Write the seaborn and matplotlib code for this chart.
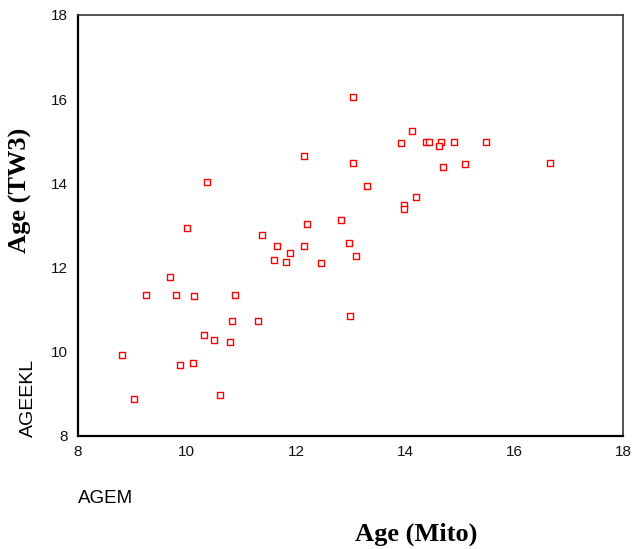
import numpy as np
import pandas as pd
import matplotlib
matplotlib.use('Agg')
import matplotlib.pyplot as plt
import seaborn as sns

# values
agem = [8.81, 9.04, 9.25, 9.70, 9.81, 9.88, 10.11, 10.14, 10.88, 10.83, 11.31,
        10.32, 10.50, 10.80, 10.60, 10.37, 12.14, 10.01, 11.37, 11.65, 12.15,
        12.21, 11.59, 11.90, 11.82, 12.46, 13.05, 14.13, 13.92, 14.38, 14.44,
        14.66, 14.63, 14.90, 15.48, 13.05, 14.69, 15.10, 16.66, 13.31, 14.20,
        13.98, 13.98, 12.82, 12.98, 13.11, 13.00]
ageekl = [9.92, 8.87, 11.34, 11.77, 11.34, 9.69, 9.72, 11.31, 11.34, 10.72, 10.72,
          10.39, 10.28, 10.22, 8.96, 14.02, 14.66, 12.93, 12.76, 12.50, 12.50,
          13.03, 12.18, 12.34, 12.14, 12.11, 16.04, 15.25, 14.95, 14.99, 14.99,
          14.99, 14.88, 14.99, 14.99, 14.49, 14.39, 14.46, 14.49, 13.93, 13.67,
          13.48, 13.39, 13.13, 12.57, 12.27, 10.85]

df = pd.DataFrame({'AGEM': agem, 'AGEEKL': ageekl})

sns.set_style('white')
plt.rcParams['font.family'] = ['Liberation Sans', 'DejaVu Sans']
plt.rcParams['text.color'] = 'black'

fig = plt.figure(figsize=(6.32, 5.49), dpi=100)
ax = fig.add_axes([0.123, 0.2064, 0.863, 0.7663])

sns.scatterplot(data=df, x='AGEM', y='AGEEKL', ax=ax, marker='s', s=22,
                facecolor='white', edgecolor='#ff0000', linewidth=1.0)

ax.set_xlim(8, 18)
ax.set_ylim(8, 18)
ax.set_xticks([8, 10, 12, 14, 16, 18])
ax.set_yticks([8, 10, 12, 14, 16, 18])
ax.set_xlabel('')
ax.set_ylabel('')
ax.tick_params(axis='both', direction='out', length=3, width=3, color='black',
               labelsize=11, pad=4, labelcolor='#111111')

for side in ['left', 'bottom']:
    ax.spines[side].set_linewidth(1.6)
    ax.spines[side].set_color('black')
for side in ['top', 'right']:
    ax.spines[side].set_visible(True)
    ax.spines[side].set_linewidth(1.2)
    ax.spines[side].set_color('#333333')

fig.text(0.1234, 0.0916, 'AGEM', fontsize=13.5, ha='left', va='center')
fig.text(0.0443, 0.204, 'AGEEKL', fontsize=14, rotation=90, ha='center', va='bottom')
fig.text(0.659, 0.027, 'Age (Mito)', fontsize=19, fontweight='bold',
         family=['Liberation Serif', 'DejaVu Serif'], ha='center', va='center')
fig.text(0.0316, 0.653, 'Age (TW3)', fontsize=19, fontweight='bold', rotation=90,
         family=['Liberation Serif', 'DejaVu Serif'], ha='center', va='center')

fig.savefig('out.png', dpi=100)
